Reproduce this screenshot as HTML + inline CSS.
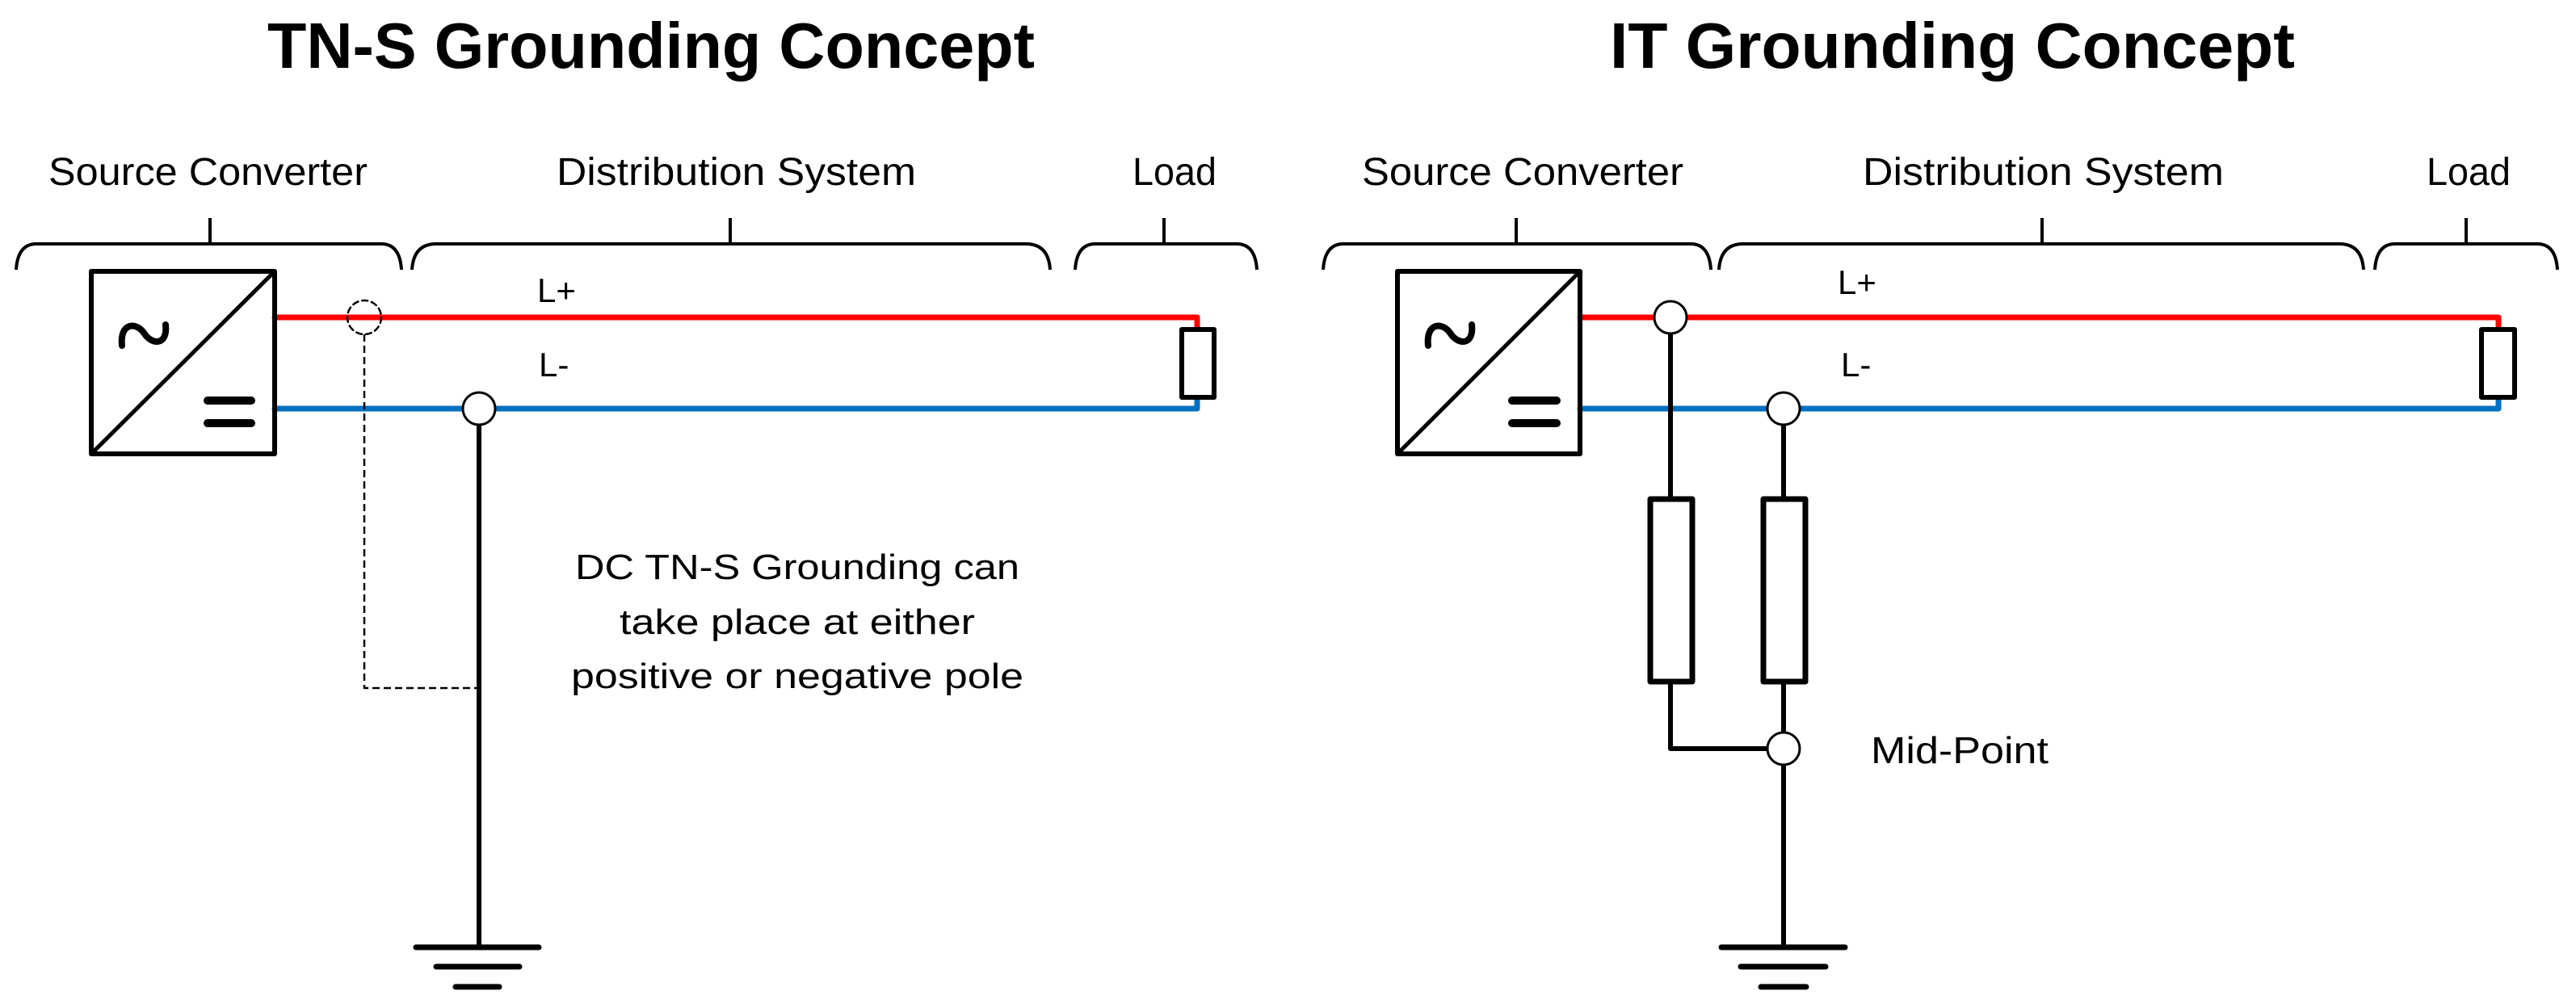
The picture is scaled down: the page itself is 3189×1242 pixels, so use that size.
<!DOCTYPE html>
<html><head><meta charset="utf-8"><style>
html,body{margin:0;padding:0;background:#fff;}
svg{display:block;}
text{font-family:"Liberation Sans",sans-serif;fill:#000;}
</style></head><body>
<svg width="3189" height="1242" viewBox="0 0 3189 1242" xmlns="http://www.w3.org/2000/svg">
<!-- Titles -->
<text x="806" y="84" font-size="80" font-weight="bold" text-anchor="middle" textLength="950" lengthAdjust="spacingAndGlyphs">TN-S Grounding Concept</text>
<text x="2417" y="84" font-size="80" font-weight="bold" text-anchor="middle" textLength="848" lengthAdjust="spacingAndGlyphs">IT Grounding Concept</text>

<!-- Section labels -->
<g font-size="48">
<text x="60" y="229" textLength="395" lengthAdjust="spacingAndGlyphs">Source Converter</text>
<text x="689" y="229" textLength="445" lengthAdjust="spacingAndGlyphs">Distribution System</text>
<text x="1402" y="229" textLength="104" lengthAdjust="spacingAndGlyphs">Load</text>
<text x="1686" y="229" textLength="398" lengthAdjust="spacingAndGlyphs">Source Converter</text>
<text x="2306" y="229" textLength="447" lengthAdjust="spacingAndGlyphs">Distribution System</text>
<text x="3004" y="229" textLength="104" lengthAdjust="spacingAndGlyphs">Load</text>
</g>

<!-- Brackets -->
<g fill="none" stroke="#000" stroke-width="4">
<path d="M20,334 Q22,302 45,302 L472,302 Q495,302 497,334 M260,270 V302"/>
<path d="M510,334 Q512,302 540,302 L1270,302 Q1298,302 1300,334 M904,270 V302"/>
<path d="M1331,334 Q1333,302 1356,302 L1531,302 Q1554,302 1556,334 M1441,270 V302"/>
<path d="M1638,334 Q1640,302 1663,302 L2093,302 Q2116,302 2118,334 M1877,270 V302"/>
<path d="M2128,334 Q2130,302 2158,302 L2896,302 Q2924,302 2926,334 M2528,270 V302"/>
<path d="M2940,334 Q2942,302 2965,302 L3141,302 Q3164,302 3166,334 M3053,270 V302"/>
</g>

<!-- LEFT DIAGRAM -->
<g stroke-linecap="round" stroke-linejoin="round">
<!-- wires -->
<path d="M340,393 H1482 V408" fill="none" stroke="#ff0000" stroke-width="7"/>
<path d="M340,506 H1482 V492" fill="none" stroke="#0070c0" stroke-width="7"/>
<!-- converter -->
<rect x="113" y="336" width="227" height="226" fill="none" stroke="#000" stroke-width="6"/>
<line x1="340" y1="336" x2="113" y2="562" stroke="#000" stroke-width="5"/>
<path d="M151,428 C148,400 168,398 178,412 C188,428 208,428 205,402" fill="none" stroke="#000" stroke-width="8"/>
<line x1="257" y1="496" x2="311" y2="496" stroke="#000" stroke-width="10"/>
<line x1="257" y1="524" x2="311" y2="524" stroke="#000" stroke-width="10"/>
<!-- load resistor -->
<rect x="1463" y="408" width="40" height="84" fill="#fff" stroke="#000" stroke-width="6"/>
<!-- dashed -->
<ellipse cx="451" cy="393" rx="21" ry="21" fill="none" stroke="#000" stroke-width="2.5" stroke-dasharray="7,5"/>
<path d="M451,414 V852 H591" fill="none" stroke="#000" stroke-width="2.5" stroke-dasharray="9,5" stroke-linecap="butt"/>
<!-- ground line -->
<line x1="593" y1="527" x2="593" y2="1173" stroke="#000" stroke-width="6"/>
<circle cx="593" cy="506" r="20" fill="#fff" stroke="#000" stroke-width="3"/>
<line x1="515" y1="1173" x2="667" y2="1173" stroke="#000" stroke-width="7"/>
<line x1="540" y1="1197" x2="643" y2="1197" stroke="#000" stroke-width="7"/>
<line x1="564" y1="1222" x2="618" y2="1222" stroke="#000" stroke-width="7"/>
</g>
<text x="665" y="374" font-size="42">L+</text>
<text x="667" y="466" font-size="42">L-</text>
<g font-size="44" text-anchor="middle">
<text x="987" y="717" textLength="550" lengthAdjust="spacingAndGlyphs">DC TN-S Grounding can</text>
<text x="987" y="785" textLength="440" lengthAdjust="spacingAndGlyphs">take place at either</text>
<text x="987" y="852" textLength="560" lengthAdjust="spacingAndGlyphs">positive or negative pole</text>
</g>

<!-- RIGHT DIAGRAM -->
<g stroke-linecap="round" stroke-linejoin="round">
<path d="M1956,393 H3093 V408" fill="none" stroke="#ff0000" stroke-width="7"/>
<path d="M1956,506 H3093 V492" fill="none" stroke="#0070c0" stroke-width="7"/>
<rect x="1730" y="336" width="226" height="226" fill="none" stroke="#000" stroke-width="6"/>
<line x1="1956" y1="336" x2="1730" y2="562" stroke="#000" stroke-width="5"/>
<path d="M1768,428 C1765,400 1785,398 1795,412 C1805,428 1825,428 1822,402" fill="none" stroke="#000" stroke-width="8"/>
<line x1="1872" y1="496" x2="1927" y2="496" stroke="#000" stroke-width="10"/>
<line x1="1872" y1="524" x2="1927" y2="524" stroke="#000" stroke-width="10"/>
<rect x="3072" y="408" width="41" height="84" fill="#fff" stroke="#000" stroke-width="6"/>
<!-- grounding resistors -->
<path d="M2068,414 V927 H2208" fill="none" stroke="#000" stroke-width="6"/>
<line x1="2208" y1="527" x2="2208" y2="1173" stroke="#000" stroke-width="6"/>
<rect x="2043" y="618" width="52" height="226" fill="#fff" stroke="#000" stroke-width="7"/>
<rect x="2183" y="618" width="52" height="226" fill="#fff" stroke="#000" stroke-width="7"/>
<circle cx="2068" cy="393" r="20" fill="#fff" stroke="#000" stroke-width="3"/>
<circle cx="2208" cy="506" r="20" fill="#fff" stroke="#000" stroke-width="3"/>
<circle cx="2208" cy="927" r="20" fill="#fff" stroke="#000" stroke-width="3"/>
<line x1="2131" y1="1173" x2="2284" y2="1173" stroke="#000" stroke-width="7"/>
<line x1="2155" y1="1197" x2="2260" y2="1197" stroke="#000" stroke-width="7"/>
<line x1="2180" y1="1222" x2="2236" y2="1222" stroke="#000" stroke-width="7"/>
</g>
<text x="2275" y="364" font-size="42">L+</text>
<text x="2279" y="466" font-size="42">L-</text>
<text x="2316" y="945" font-size="46" textLength="220" lengthAdjust="spacingAndGlyphs">Mid-Point</text>
</svg>
</body></html>
